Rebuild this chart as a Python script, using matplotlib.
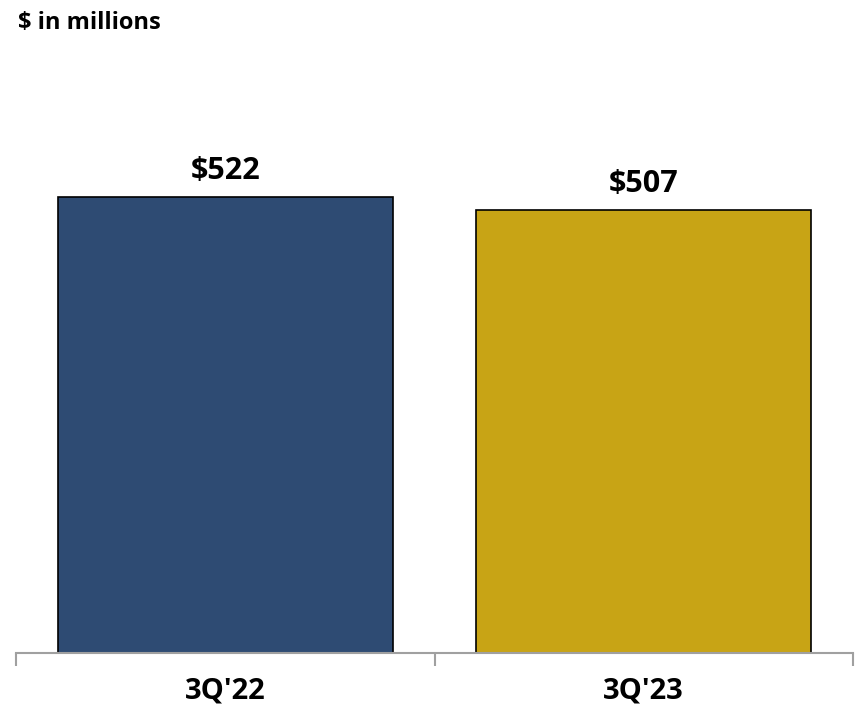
import matplotlib
matplotlib.use("Agg")
import matplotlib.pyplot as plt

quarters = ["3Q'22", "3Q'23"]
values = [522, 507]
bar_colors = ["#2E4B73", "#C8A415"]

plt.rcParams['font.family'] = ['Open Sans', 'DejaVu Sans']

fig = plt.figure(figsize=(8.6, 7.06), dpi=100)
ax = fig.add_axes([16 / 860, 53 / 706, 837 / 860, 0.7424])

x = list(range(len(quarters)))
bars = ax.bar(x, values, width=0.80, color=bar_colors, edgecolor="black", linewidth=1.2, zorder=2)

for b, v in zip(bars, values):
    ax.annotate(f"${v}", (b.get_x() + b.get_width() / 2, v), xytext=(0, 8),
                textcoords="offset points", ha="center", va="bottom",
                fontsize=22, fontweight="bold")

ax.set_xlim(-0.5, len(quarters) - 0.5)
ax.set_ylim(0, 600)

# ticks on category edges, labels in the middle
ax.set_xticks([i - 0.5 for i in range(len(quarters) + 1)])
ax.set_xticklabels([])
ax.set_xticks(x, minor=True)
ax.set_xticklabels(quarters, minor=True, fontsize=21, fontweight="bold")
ax.tick_params(axis="x", which="major", direction="out", length=9, width=1.5, color="#A0A0A0")
ax.tick_params(axis="x", which="minor", length=0, pad=17)
ax.set_yticks([])

for s in ["top", "right", "left"]:
    ax.spines[s].set_visible(False)
ax.spines["bottom"].set_color("#A0A0A0")
ax.spines["bottom"].set_linewidth(1.5)

fig.text(18 / 860, 1 - 23 / 706, "$ in millions", fontsize=17, fontweight="bold", va="center", ha="left")

fig.savefig("out.png", dpi=100)
